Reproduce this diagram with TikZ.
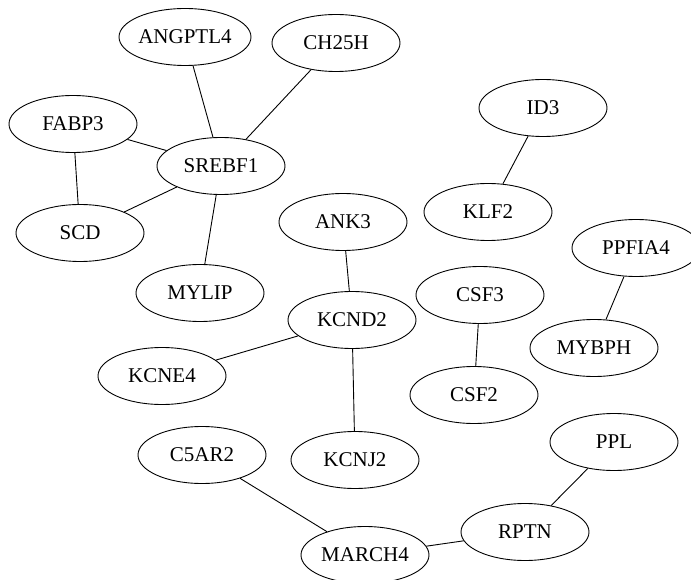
\documentclass[tikz,border=0pt]{standalone}
\usepackage{fontspec}
\setmainfont{Liberation Serif}
\usetikzlibrary{shapes.geometric}

\begin{document}
\begin{tikzpicture}[x=1pt, y=-1pt,
	gene/.style={ellipse, draw=black, line width=0.9pt, minimum width=128pt, minimum height=57pt, inner sep=0pt, font=\fontsize{21}{25}\selectfont},
	link/.style={draw=black, line width=0.9pt}]
	\clip (0,0) rectangle (691,580);
	% SREBF1 cluster
	\node[gene] (angptl4) at (185,37) {ANGPTL4};
	\node[gene] (ch25h) at (336,43) {CH25H};
	\node[gene] (fabp3) at (73,124) {FABP3};
	\node[gene] (srebf1) at (221,166) {SREBF1};
	\node[gene] (scd) at (80,233) {SCD};
	\node[gene] (mylip) at (200,293) {MYLIP};
	% KCND2 cluster
	\node[gene] (ank3) at (343,222) {ANK3};
	\node[gene] (kcnd2) at (352,320) {KCND2};
	\node[gene] (kcne4) at (162,376) {KCNE4};
	\node[gene] (kcnj2) at (355,460) {KCNJ2};
	% Pairs
	\node[gene] (id3) at (543,108) {ID3};
	\node[gene] (klf2) at (488,212) {KLF2};
	\node[gene] (csf3) at (480,295) {CSF3};
	\node[gene] (csf2) at (474,395) {CSF2};
	\node[gene] (ppfia4) at (636,248) {PPFIA4};
	\node[gene] (mybph) at (594,348) {MYBPH};
	% MARCH4 chain
	\node[gene] (c5ar2) at (202,455) {C5AR2};
	\node[gene] (ppl) at (614,442) {PPL};
	\node[gene] (rptn) at (525,532) {RPTN};
	\node[gene] (march4) at (365,555) {MARCH4};
	% Links
	\draw[link] (angptl4) -- (srebf1);
	\draw[link] (ch25h) -- (srebf1);
	\draw[link] (fabp3) -- (srebf1);
	\draw[link] (fabp3) -- (scd);
	\draw[link] (scd) -- (srebf1);
	\draw[link] (srebf1) -- (mylip);
	\draw[link] (ank3) -- (kcnd2);
	\draw[link] (kcnd2) -- (kcne4);
	\draw[link] (kcnd2) -- (kcnj2);
	\draw[link] (id3) -- (klf2);
	\draw[link] (csf3) -- (csf2);
	\draw[link] (ppfia4) -- (mybph);
	\draw[link] (c5ar2) -- (march4);
	\draw[link] (ppl) -- (rptn);
	\draw[link] (rptn) -- (march4);
\end{tikzpicture}
\end{document}
